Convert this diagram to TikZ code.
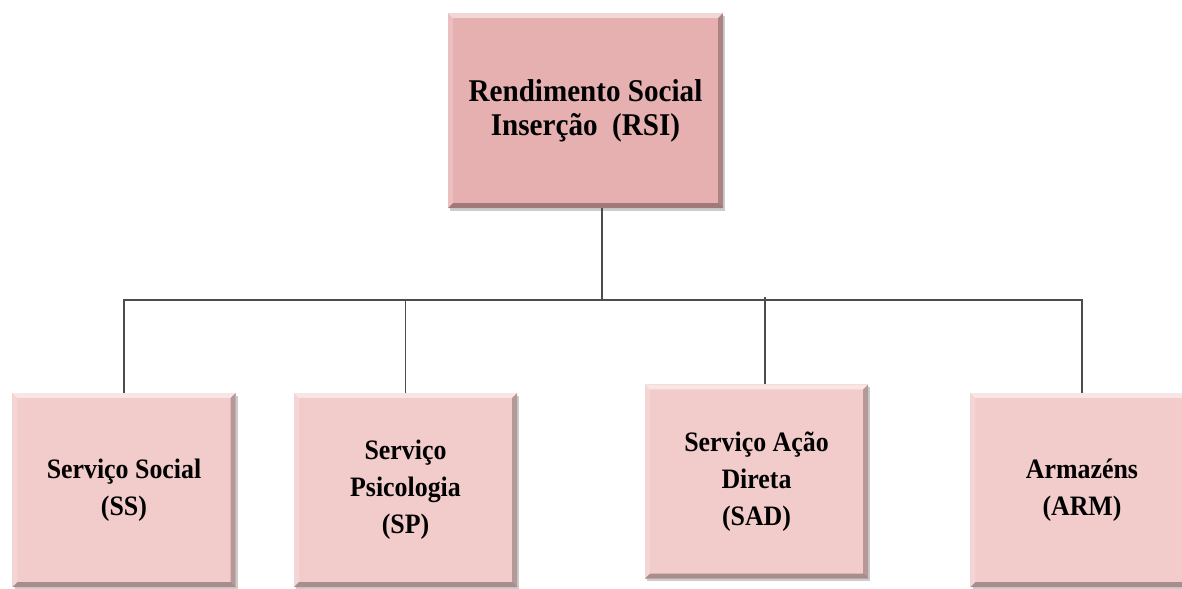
\documentclass[tikz,border=0pt]{standalone}
\usepackage{fontspec}
\setmainfont{Liberation Serif}[FakeStretch=0.92]
\usetikzlibrary{shadows}
\definecolor{topfill}{HTML}{E6B0B0}
\definecolor{subfill}{HTML}{F2CBCB}
\colorlet{linkgray}{black!70}

\begin{document}
\begin{tikzpicture}[x=0.025cm,y=-0.025cm,
        bevel/.style={path picture={
            \fill[white,opacity=.5] (path picture bounding box.north west)
                -- (path picture bounding box.north east)
                -- ([shift={(-3.5pt,-3.5pt)}]path picture bounding box.north east)
                -- ([shift={(3.5pt,-3.5pt)}]path picture bounding box.north west) -- cycle;
            \fill[white,opacity=.2] (path picture bounding box.north west)
                -- (path picture bounding box.south west)
                -- ([shift={(3.5pt,3.5pt)}]path picture bounding box.south west)
                -- ([shift={(3.5pt,-3.5pt)}]path picture bounding box.north west) -- cycle;
            \fill[black,opacity=.25] (path picture bounding box.north east)
                -- (path picture bounding box.south east)
                -- ([shift={(-3.5pt,3.5pt)}]path picture bounding box.south east)
                -- ([shift={(-3.5pt,-3.5pt)}]path picture bounding box.north east) -- cycle;
            \fill[black,opacity=.3] (path picture bounding box.south west)
                -- (path picture bounding box.south east)
                -- ([shift={(-3.5pt,3.5pt)}]path picture bounding box.south east)
                -- ([shift={(3.5pt,3.5pt)}]path picture bounding box.south west) -- cycle;
        }},
        box/.style={bevel,inner sep=0pt,outer sep=0pt,align=center,
            drop shadow={shadow xshift=1.5pt,shadow yshift=-2pt,fill=black!40}},
        topbox/.style={box,fill=topfill,minimum width=6.875cm,minimum height=4.875cm,
            font=\fontsize{22.5}{24.2}\selectfont\bfseries},
        subbox/.style={box,fill=subfill,minimum width=5.575cm,minimum height=4.85cm,
            font=\fontsize{20}{26.3}\selectfont\bfseries},
        link/.style={linkgray,line width=1.3pt}
    ]
    \useasboundingbox (0,0) rectangle (1182,588);

    \node [topbox] (rsi) at (585.5,110.5) {Rendimento Social\\Inserção~~(RSI)};

    \node [subbox] (ss)  at (124,490)    {Serviço Social\\(SS)};
    \node [subbox] (sp)  at (405.5,490)  {Serviço\\Psicologia\\(SP)};
    \node [subbox] (sad) at (756.5,481.5) {Serviço Ação\\Direta\\(SAD)};
    \node [subbox] (arm) at (1082,490)   {Armazéns\\(ARM)};

    \coordinate (trunk) at (602,300);
    \coordinate (sadtap) at (765,297);

    \draw [link] (rsi.south -| trunk) -- (trunk);
    \draw [link] (ss.north) -- (ss.north |- trunk) -- (arm.north |- trunk) -- (arm.north);
    \draw [link] (sp.north) -- (sp.north |- trunk);
    \draw [link] (sadtap) -- (sadtap |- sad.north);
\end{tikzpicture}
\end{document}
